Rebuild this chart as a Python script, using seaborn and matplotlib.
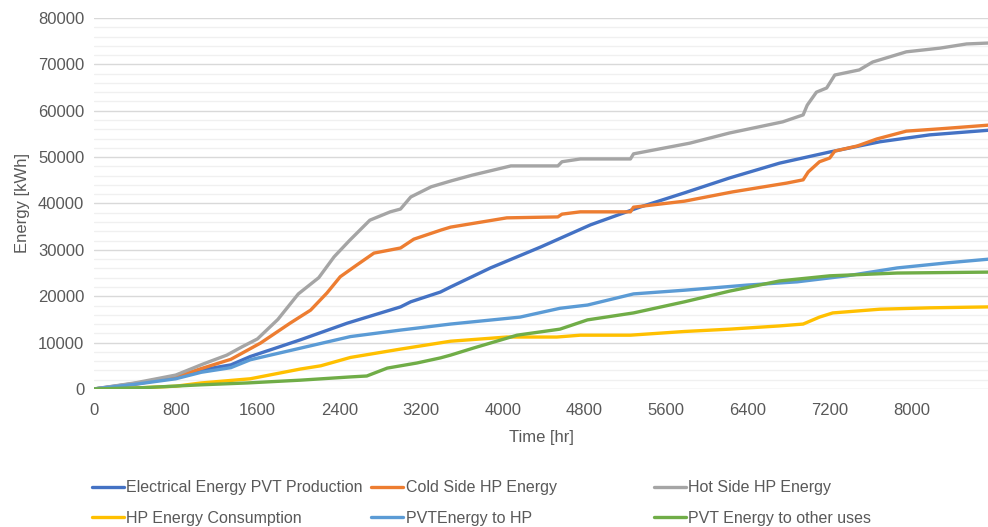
import matplotlib
matplotlib.use("Agg")
import matplotlib.pyplot as plt
import seaborn as sns
import pandas as pd
from matplotlib.ticker import MultipleLocator

# cumulative energy series (hours, kWh)
elec_x = [0, 400, 800, 1050, 1340, 1530, 1830, 2020, 2480, 3000, 3100, 3390, 3490, 3880, 4370, 4860, 5340, 5780, 6220, 6710, 7200, 7690, 8180, 8760]
elec_y = [0, 1200, 2500, 4100, 5200, 7000, 9200, 10600, 14200, 17700, 18800, 20900, 22000, 26100, 30600, 35400, 39200, 42300, 45500, 48700, 51100, 53300, 54800, 55800]

cold_x = [0, 400, 800, 1050, 1340, 1630, 1920, 2120, 2280, 2410, 2570, 2740, 3000, 3130, 3400, 3490, 4040, 4540, 4580, 4760, 5250, 5280, 5780, 6250, 6780, 6940, 6990, 7100, 7200, 7250, 7470, 7660, 7950, 8280, 8760]
cold_y = [0, 1000, 2600, 4400, 6400, 9900, 14200, 17000, 20700, 24200, 26700, 29300, 30400, 32300, 34300, 34900, 36900, 37100, 37700, 38200, 38200, 39200, 40500, 42500, 44400, 45100, 46800, 49000, 49800, 51300, 52400, 53900, 55600, 56100, 56900]

hot_x = [0, 400, 800, 1070, 1300, 1450, 1600, 1800, 2000, 2200, 2350, 2500, 2700, 2900, 3000, 3100, 3300, 3500, 3700, 4080, 4540, 4580, 4760, 5250, 5280, 5830, 6220, 6740, 6940, 6980, 7070, 7170, 7250, 7490, 7620, 7950, 8280, 8540, 8760]
hot_y = [0, 1300, 3000, 5400, 7300, 9100, 10800, 15000, 20500, 24000, 28500, 32000, 36400, 38200, 38800, 41400, 43600, 44900, 46100, 48100, 48100, 49000, 49600, 49600, 50700, 53000, 55200, 57600, 59100, 61200, 64000, 64900, 67700, 68800, 70500, 72700, 73500, 74400, 74600]

hp_cons_x = [0, 400, 800, 1050, 1530, 2020, 2220, 2510, 3000, 3490, 4040, 4530, 4760, 5250, 5780, 6220, 6710, 6940, 7100, 7230, 7690, 8180, 8760]
hp_cons_y = [0, 200, 600, 1300, 2200, 4300, 5000, 6800, 8600, 10300, 11200, 11200, 11600, 11600, 12400, 12900, 13600, 14000, 15500, 16400, 17200, 17500, 17700]

pvt_hp_x = [0, 400, 800, 1050, 1340, 1530, 2020, 2510, 3000, 3490, 4170, 4560, 4830, 5280, 5780, 6390, 6880, 7370, 7860, 8350, 8760]
pvt_hp_y = [0, 1000, 2200, 3600, 4600, 6300, 8800, 11300, 12700, 14000, 15500, 17400, 18100, 20500, 21300, 22400, 23100, 24400, 26100, 27200, 28000]

pvt_other_x = [0, 500, 1050, 1500, 2020, 2510, 2670, 2870, 3160, 3390, 3490, 3710, 4140, 4560, 4830, 5280, 5780, 6220, 6710, 7200, 7860, 8760]
pvt_other_y = [0, 300, 900, 1300, 1900, 2600, 2800, 4500, 5600, 6700, 7300, 8800, 11600, 12900, 14900, 16400, 18800, 21100, 23300, 24400, 25000, 25200]

names = ["Electrical Energy PVT Production", "Cold Side HP Energy", "Hot Side HP Energy",
         "HP Energy Consumption", "PVTEnergy to HP", "PVT Energy to other uses"]
colors = ["#4472C4", "#ED7D31", "#A5A5A5", "#FFC000", "#5B9BD5", "#70AD47"]
xs = [elec_x, cold_x, hot_x, hp_cons_x, pvt_hp_x, pvt_other_x]
ys = [elec_y, cold_y, hot_y, hp_cons_y, pvt_hp_y, pvt_other_y]

df = pd.concat([pd.DataFrame({"hour": x, "energy": y, "series": n})
                for x, y, n in zip(xs, ys, names)], ignore_index=True)

sns.set_style("white")
plt.rcParams["font.family"] = ["Liberation Sans", "DejaVu Sans"]

fig = plt.figure(figsize=(9.88, 5.27), dpi=100)
ax = fig.add_axes([0.0951, 0.2619, 0.905, 0.704])

sns.lineplot(data=df, x="hour", y="energy", hue="series", hue_order=names,
             palette=dict(zip(names, colors)), estimator=None, sort=False,
             linewidth=2.4, ax=ax)

ax.set_xlim(0, 8750)
ax.set_ylim(0, 80000)
ax.xaxis.set_major_locator(MultipleLocator(800))
ax.yaxis.set_major_locator(MultipleLocator(10000))
ax.yaxis.set_minor_locator(MultipleLocator(2000))
ax.grid(axis="y", which="major", color="#D9D9D9", linewidth=1.0, zorder=0)
ax.grid(axis="y", which="minor", color="#F0F0F0", linewidth=1.0, zorder=0)
ax.set_axisbelow(True)
for s in ax.spines.values():
    s.set_visible(False)
ax.tick_params(axis="both", which="both", length=0, labelsize=12, colors="#595959", pad=7)
ax.tick_params(axis="x", pad=10)
ax.set_xlabel("Time [hr]", fontsize=12, color="#595959", labelpad=9)
ax.set_ylabel("Energy [kWh]", fontsize=12, color="#595959", labelpad=6)

handles, labels = ax.get_legend_handles_labels()
ax.get_legend().remove()
lut = dict(zip(labels, handles))
col_x = [0.093, 0.376, 0.662]
for i, cx in enumerate(col_x):
    pair = [names[i], names[i + 3]]
    fig.legend([lut[p] for p in pair], pair, loc="upper left",
               bbox_to_anchor=(cx, 0.089), frameon=False, fontsize=11.5,
               labelcolor="#595959", handlelength=2.0, handletextpad=0.15,
               labelspacing=1.0, borderaxespad=0, borderpad=0)

fig.savefig("out.png", dpi=100)
